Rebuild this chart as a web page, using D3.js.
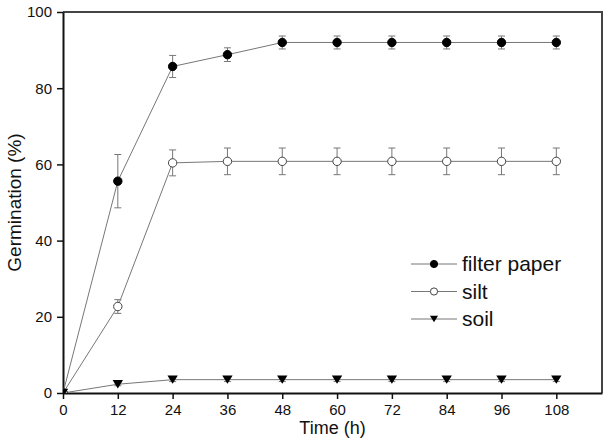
<!DOCTYPE html>
<html>
<head>
<meta charset="utf-8">
<script src="https://d3js.org/d3.v7.min.js"></script>
<style>
  body { margin: 0; background: #fff; }
  text { font-family: "Liberation Sans", Arial, sans-serif; fill: #111; }
</style>
</head>
<body>
<svg id="chart" width="609" height="443"></svg>
<script>
  // data
  var hours = [0, 12, 24, 36, 48, 60, 72, 84, 96, 108];
  var filterPaper = [0, 55.6, 85.7, 88.8, 92, 92, 92, 92, 92, 92];
  var filterPaperErr = [0, 7, 2.9, 1.8, 1.7, 1.7, 1.7, 1.7, 1.7, 1.7];
  var silt = [0, 22.7, 60.4, 60.8, 60.8, 60.8, 60.8, 60.8, 60.8, 60.8];
  var siltErr = [0, 1.8, 3.4, 3.5, 3.5, 3.5, 3.5, 3.5, 3.5, 3.5];
  var soil = [0, 2.3, 3.5, 3.5, 3.5, 3.5, 3.5, 3.5, 3.5, 3.5];
  var soilErr = [0, 0.4, 0.5, 0.5, 0.5, 0.5, 0.5, 0.5, 0.5, 0.5];
  var seriesNames = ["filter paper", "silt", "soil"];
  var yTicks = [0, 20, 40, 60, 80, 100];

  var margin = { top: 12, right: 7, bottom: 50, left: 63 },
    width = 609 - margin.left - margin.right,
    height = 443 - margin.top - margin.bottom;

  var svg = d3.select("#chart");
  var g = svg.append("g")
    .attr("transform", "translate(" + margin.left + "," + margin.top + ")");

  var x = d3.scaleLinear().domain([0, 118]).range([0, width]);
  var y = d3.scaleLinear().domain([0, 100]).range([height, 0]);

  g.append("clipPath").attr("id", "plotclip")
    .append("rect").attr("width", width).attr("height", height);

  // frame (top and right)
  g.append("path")
    .attr("d", "M0,0H" + width + "V" + height)
    .attr("fill", "none").attr("stroke", "#444").attr("stroke-width", 2);

  // axes
  var xAxis = g.append("g")
    .attr("transform", "translate(0," + height + ")")
    .call(d3.axisBottom(x).tickValues(hours).tickSize(6).tickSizeOuter(0));
  var yAxis = g.append("g")
    .call(d3.axisLeft(y).tickValues(yTicks).tickSize(6).tickSizeOuter(0).tickPadding(5));
  [xAxis, yAxis].forEach(function (a) {
    a.select(".domain").attr("stroke", "#111").attr("stroke-width", 2);
    a.selectAll(".tick line").attr("stroke", "#111").attr("stroke-width", 1.5);
    a.selectAll(".tick text").style("font-size", "15px")
      .style("font-family", "Liberation Sans, Arial, sans-serif").attr("fill", "#111");
  });
  xAxis.selectAll(".tick text").attr("dy", "0.85em");

  // axis titles
  svg.append("text")
    .attr("x", margin.left + x(59)).attr("y", 434)
    .attr("text-anchor", "middle").style("font-size", "18px")
    .text("Time (h)");
  svg.append("text")
    .attr("transform", "translate(21," + (margin.top + y(50)) + ") rotate(-90)")
    .attr("text-anchor", "middle").style("font-size", "19px")
    .text("Germination (%)");

  var series = [
    { name: seriesNames[0], values: filterPaper, err: filterPaperErr, shape: "circle", fill: "#000" },
    { name: seriesNames[1], values: silt, err: siltErr, shape: "circle", fill: "#fff" },
    { name: seriesNames[2], values: soil, err: soilErr, shape: "triangle", fill: "#000" }
  ];

  var line = d3.line()
    .x(function (d) { return x(d[0]); })
    .y(function (d) { return y(d[1]); });

  var plot = g.append("g").attr("clip-path", "url(#plotclip)");

  function drawMarker(sel, s, cx, cy, size) {
    if (s.shape === "circle") {
      sel.append("circle").attr("cx", cx).attr("cy", cy).attr("r", size)
        .attr("fill", s.fill).attr("stroke", s.fill === "#fff" ? "#444" : "#000").attr("stroke-width", 1);
    } else {
      var h = size * 1.6;
      sel.append("path")
        .attr("d", "M" + (cx - size) + "," + (cy - h / 2) + "L" + (cx + size) + "," + (cy - h / 2) + "L" + cx + "," + (cy + h / 2) + "Z")
        .attr("fill", s.fill);
    }
  }

  series.forEach(function (s) {
    var pts = hours.map(function (h, i) { return [h, s.values[i], s.err[i]]; });
    plot.append("path").datum(pts).attr("d", line)
      .attr("fill", "none").attr("stroke", "#777").attr("stroke-width", 1);

    // error bars
    pts.forEach(function (p) {
      if (!p[2]) return;
      var cx = x(p[0]), hi = y(p[1] + p[2]), lo = y(p[1] - p[2]);
      var eb = plot.append("g").attr("stroke", "#777").attr("stroke-width", 1);
      eb.append("line").attr("x1", cx).attr("x2", cx).attr("y1", hi).attr("y2", lo);
      eb.append("line").attr("x1", cx - 3.5).attr("x2", cx + 3.5).attr("y1", hi).attr("y2", hi);
      eb.append("line").attr("x1", cx - 3.5).attr("x2", cx + 3.5).attr("y1", lo).attr("y2", lo);
    });
  });

  series.forEach(function (s) {
    hours.forEach(function (h, i) {
      drawMarker(plot, s, x(h), y(s.values[i]), s.shape === "circle" ? 4.2 : 5.2);
    });
  });

  // legend
  var legend = svg.append("g").attr("transform", "translate(411,264)");
  series.forEach(function (s, i) {
    var row = legend.append("g").attr("transform", "translate(0," + (i * 27.5) + ")");
    row.append("line").attr("x1", 0).attr("x2", 46).attr("y1", 0).attr("y2", 0)
      .attr("stroke", "#777").attr("stroke-width", 1);
    drawMarker(row, s, 23, 0, s.shape === "circle" ? 3.6 : 4);
    row.append("text").attr("x", 51).attr("y", 0).attr("dy", "0.35em")
      .style("font-size", "21px").text(s.name);
  });
</script>
</body>
</html>
